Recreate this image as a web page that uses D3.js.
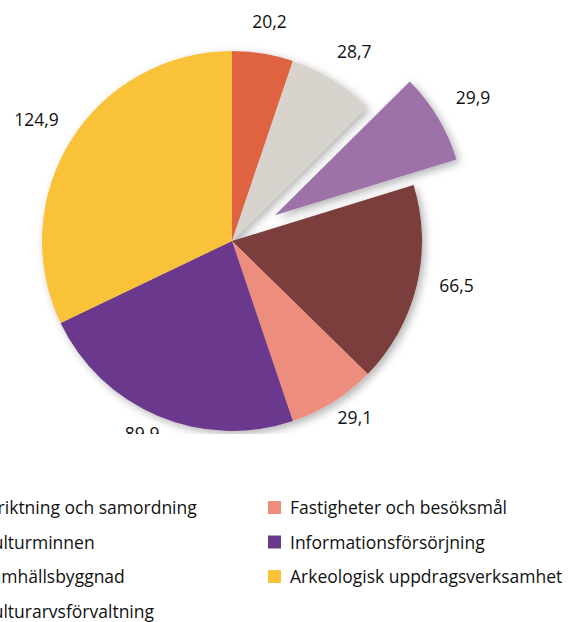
<!DOCTYPE html>
<html>
<head>
<meta charset="utf-8">
<script src="https://cdn.jsdelivr.net/npm/d3@7"></script>
<style>
    body { margin: 0; background: #fff; }
    svg { display: block; font-family: "Open Sans", "Noto Sans", sans-serif; }
</style>
</head>
<body>
<div id="chart-container"></div>
<script>
const categories = [
    "Inriktning och samordning",
    "Kulturminnen",
    "Samhällsbyggnad",
    "Kulturarvsförvaltning",
    "Fastigheter och besöksmål",
    "Informationsförsörjning",
    "Arkeologisk uppdragsverksamhet"
];
const values = [20.2, 28.7, 29.9, 66.5, 29.1, 89.9, 124.9];
const colors = ["#df6341", "#d9d3ce", "#9d72a9", "#7b3d3d", "#ec8d7e", "#6a398c", "#f9c237"];
const explodedIndex = 2;

const chartWidth = 572;
const chartHeight = 622;
const center = {x: 232, y: 241};
const radius = 190;
const labelRadius = {x: 231, y: 216};   // labels sit on an ellipse, at their baseline
const explodeOffset = 50;
const cropBottom = 434;

const sv = d3.formatLocale({decimal: ",", thousands: " ", grouping: [3], currency: ["", " kr"]});
const fmt = sv.format(".1f");

const svg = d3.select("#chart-container").append("svg")
    .attr("width", chartWidth)
    .attr("height", chartHeight);

const defs = svg.append("defs");
defs.append("clipPath").attr("id", "crop")
    .append("rect")
    .attr("x", 0).attr("y", 0)
    .attr("width", chartWidth).attr("height", cropBottom);

const shadow = defs.append("filter").attr("id", "shadow")
    .attr("x", "-20%").attr("y", "-20%").attr("width", "140%").attr("height", "140%");
shadow.append("feDropShadow")
    .attr("dx", 3).attr("dy", 3)
    .attr("stdDeviation", 4)
    .attr("flood-color", "#000")
    .attr("flood-opacity", 0.3);

const pie = d3.pie().sort(null).value(d => d);
const arcs = pie(values);
const arc = d3.arc().innerRadius(0).outerRadius(radius);

const midAngle = d => (d.startAngle + d.endAngle) / 2;

// offset of a slice (only the exploded one moves)
function offset(d, i) {
    if (i !== explodedIndex) return [0, 0];
    const mid = midAngle(d);
    return [Math.sin(mid) * explodeOffset, -Math.cos(mid) * explodeOffset];
}

const chart = svg.append("g")
    .attr("clip-path", "url(#crop)")
    .append("g")
    .attr("transform", `translate(${center.x}, ${center.y})`);

chart.append("g")
    .attr("filter", "url(#shadow)")
    .selectAll("path")
    .data(arcs)
    .enter()
    .append("path")
    .attr("transform", (d, i) => `translate(${offset(d, i)})`)
    .attr("d", arc)
    .attr("fill", (d, i) => colors[i]);

chart.append("g")
    .selectAll("text")
    .data(arcs)
    .enter()
    .append("text")
    .attr("transform", (d, i) => {
        const [ox, oy] = offset(d, i);
        const mid = midAngle(d);
        const lx = Math.sin(mid) * labelRadius.x;
        const ly = -Math.cos(mid) * labelRadius.y;
        return `translate(${lx + ox}, ${ly + oy})`;
    })
    .attr("text-anchor", "middle")
    .attr("fill", "#111")
    .style("font-size", "17.5px")
    .text(d => fmt(d.value));

// legend, two columns, left one partly outside the picture
const legendCols = [-40, 268];
const legendRows = 4;
const legendTop = 508;
const legendStep = 34.5;

const legend = svg.append("g")
    .selectAll("g")
    .data(categories)
    .enter()
    .append("g")
    .attr("transform", (d, i) => `translate(${legendCols[Math.floor(i / legendRows)]}, ${legendTop + (i % legendRows) * legendStep})`);

legend.append("rect")
    .attr("x", 0)
    .attr("y", -7)
    .attr("width", 13)
    .attr("height", 13)
    .attr("fill", (d, i) => colors[i]);

legend.append("text")
    .attr("x", 22)
    .attr("dy", "0.35em")
    .attr("fill", "#111")
    .style("font-size", "17.5px")
    .text(d => d);
</script>
</body>
</html>
